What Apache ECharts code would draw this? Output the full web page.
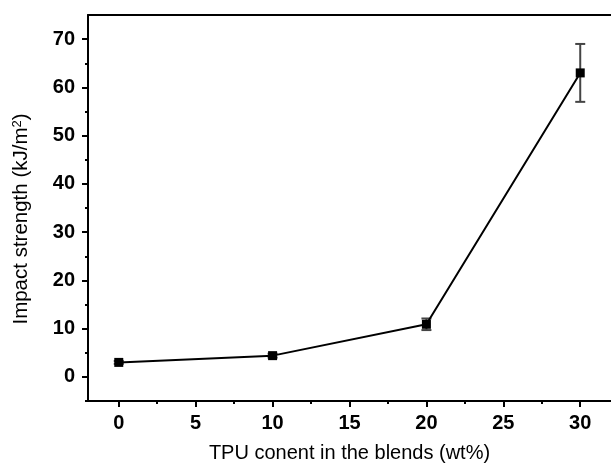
<!DOCTYPE html>
<html><head><meta charset="utf-8">
<script src="https://cdn.jsdelivr.net/npm/echarts@6/dist/echarts.min.js"></script>
<style>html,body{margin:0;padding:0;background:#fff}#c{width:611px;height:468px}</style>
</head><body><div id="c"></div>
<script>
var tpuContent = [0, 10, 20, 30];
var impactStrength = [3.0, 4.4, 10.9, 63.0];
var errorValues = [0.3, 0.4, 1.2, 6.0];
var xMajorTicks = [0, 5, 10, 15, 20, 25, 30];
var xMinorTicks = [2.5, 7.5, 12.5, 17.5, 22.5, 27.5];
var yMajorTicks = [0, 10, 20, 30, 40, 50, 60, 70];
var yMinorTicks = [-5, 5, 15, 25, 35, 45, 55, 65];

var font = 'Liberation Sans, Arial, sans-serif';
var chart = echarts.init(document.getElementById('c'));
var points = tpuContent.map(function (x, i) { return [x, impactStrength[i]]; });
var errs = tpuContent.map(function (x, i) { return [x, impactStrength[i] - errorValues[i], impactStrength[i] + errorValues[i]]; });

var xRange = {min: -2, max: 32};
var yRange = {min: -5, max: 75};
chart.setOption({
  animation: false,
  grid: {left: 88, top: 15, right: -3, bottom: 66},
  xAxis: [
    Object.assign({type: 'value', position: 'bottom',
      axisLine: {show: true, onZero: false, lineStyle: {color: '#000', width: 2}},
      axisTick: {show: true, length: 6, lineStyle: {color: '#000', width: 2}, customValues: xMajorTicks},
      axisLabel: {color: '#000', fontWeight: 'bold', fontSize: 20, fontFamily: font, margin: 12, customValues: xMajorTicks},
      splitLine: {show: false},
      name: 'TPU conent in the blends (wt%)', nameLocation: 'middle', nameGap: 42,
      nameTextStyle: {color: '#000', fontSize: 20, fontFamily: font}
    }, xRange),
    Object.assign({type: 'value', position: 'bottom',
      axisLine: {show: false, onZero: false},
      axisTick: {show: true, length: 3, lineStyle: {color: '#000', width: 2}, customValues: xMinorTicks},
      axisLabel: {show: false}, splitLine: {show: false}
    }, xRange),
    Object.assign({type: 'value', position: 'top',
      axisLine: {show: true, onZero: false, lineStyle: {color: '#000', width: 2}},
      axisTick: {show: false}, axisLabel: {show: false}, splitLine: {show: false}
    }, xRange)
  ],
  yAxis: [
    Object.assign({type: 'value', position: 'left',
      axisLine: {show: true, onZero: false, lineStyle: {color: '#000', width: 2}},
      axisTick: {show: true, length: 6, lineStyle: {color: '#000', width: 2}, customValues: yMajorTicks},
      axisLabel: {color: '#000', fontWeight: 'bold', fontSize: 20, fontFamily: font, margin: 13, customValues: yMajorTicks},
      splitLine: {show: false},
      name: '{n|Impact strength (kJ/m}{s|2}{n|)}', nameLocation: 'middle', nameGap: 56,
      nameTextStyle: {color: '#000', fontSize: 20, fontFamily: font, padding: [0, 22, 0, 0],
        rich: {n: {fontSize: 20.5, fontFamily: font, color: '#000'}, s: {fontSize: 13, fontFamily: font, color: '#000', verticalAlign: 'top', lineHeight: 14}}}
    }, yRange),
    Object.assign({type: 'value', position: 'left',
      axisLine: {show: false, onZero: false},
      axisTick: {show: true, length: 3, lineStyle: {color: '#000', width: 2}, customValues: yMinorTicks},
      axisLabel: {show: false}, splitLine: {show: false}
    }, yRange)
  ],
  series: [
    {
      type: 'custom', xAxisIndex: 0, yAxisIndex: 0, data: errs, z: 1,
      renderItem: function (params, api) {
        var x = api.value(0);
        var lo = api.coord([x, api.value(1)]);
        var hi = api.coord([x, api.value(2)]);
        var hw = 5;
        var st = {stroke: '#444', lineWidth: 2};
        return {type: 'group', children: [
          {type: 'line', shape: {x1: lo[0], y1: lo[1], x2: hi[0], y2: hi[1]}, style: st},
          {type: 'line', shape: {x1: lo[0] - hw, y1: lo[1], x2: lo[0] + hw, y2: lo[1]}, style: st},
          {type: 'line', shape: {x1: hi[0] - hw, y1: hi[1], x2: hi[0] + hw, y2: hi[1]}, style: st}
        ]};
      }
    },
    {
      type: 'line', xAxisIndex: 0, yAxisIndex: 0, data: points, z: 2,
      lineStyle: {color: '#000', width: 2},
      symbol: 'rect', symbolSize: [9, 9],
      itemStyle: {color: '#000'}
    }
  ]
});
</script></body></html>
